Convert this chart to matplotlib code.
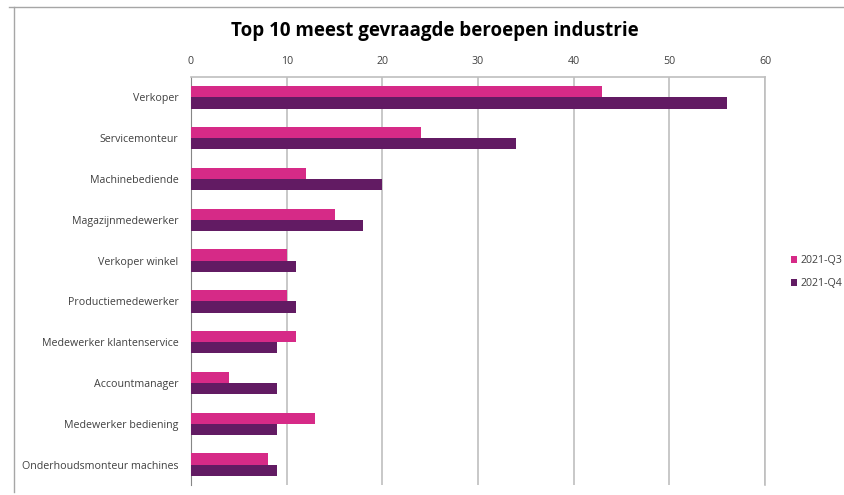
import numpy as np
import matplotlib.pyplot as plt
from matplotlib.lines import Line2D
from matplotlib.patches import Patch

beroepen = ["Verkoper", "Servicemonteur", "Machinebediende", "Magazijnmedewerker",
            "Verkoper winkel", "Productiemedewerker", "Medewerker klantenservice",
            "Accountmanager", "Medewerker bediening", "Onderhoudsmonteur machines"]
q3 = [43, 24, 12, 15, 10, 10, 11, 4, 13, 8]
q4 = [56, 34, 20, 18, 11, 11, 9, 9, 9, 9]
series = ["2021-Q3", "2021-Q4"]
colors = ["#D62A87", "#621B63"]

plt.rcParams["font.family"] = ["Open Sans", "DejaVu Sans"]

fig = plt.figure(figsize=(8.44, 4.95), dpi=100)
ax = fig.add_axes([191/844, 10/495, 574/844, 408/495])

y = np.arange(len(beroepen))
h = 0.275
ax.barh(y - h/2, q3, height=h, color=colors[0], label=series[0], zorder=3)
ax.barh(y + h/2, q4, height=h, color=colors[1], label=series[1], zorder=3)

ax.set_ylim(len(beroepen) - 0.5, -0.5)
ax.set_xlim(0, 60)
ax.set_xticks(range(0, 61, 10))
ax.set_yticks(y)
ax.set_yticklabels(beroepen, fontsize=7.7, color="#404040")
ax.xaxis.tick_top()
ax.tick_params(axis="x", length=0, labelsize=7.7, labelcolor="#404040", pad=7)
ax.tick_params(axis="y", length=0, pad=9)
ax.grid(axis="x", color="#BFBFBF", linewidth=1.2, zorder=0)
for s in ["top", "right"]:
    ax.spines[s].set_color("#BFBFBF")
    ax.spines[s].set_linewidth(1.2)
ax.spines["left"].set_color("#868686")
ax.spines["bottom"].set_visible(False)

fig.text(435/844, 1 - 31/495, "Top 10 meest gevraagde beroepen industrie",
         ha="center", va="center", fontsize=13.5, fontweight="bold")

handles = [Patch(facecolor=c) for c in colors]
fig.legend(handles, series, loc="center left", bbox_to_anchor=(781/844, 1 - 272/495),
           frameon=False, fontsize=7.7, handlelength=0.6, handleheight=0.6,
           handletextpad=0.3, labelspacing=1.1, labelcolor="#404040")

# outer chart border (top and left)
fig.add_artist(Line2D([9/844, 1], [1 - 7/495, 1 - 7/495], color="#A6A6A6", linewidth=1))
fig.add_artist(Line2D([14/844, 14/844], [1 - 7/495, 1 - 492/495], color="#A6A6A6", linewidth=1))

fig.savefig("out.png", dpi=100)
